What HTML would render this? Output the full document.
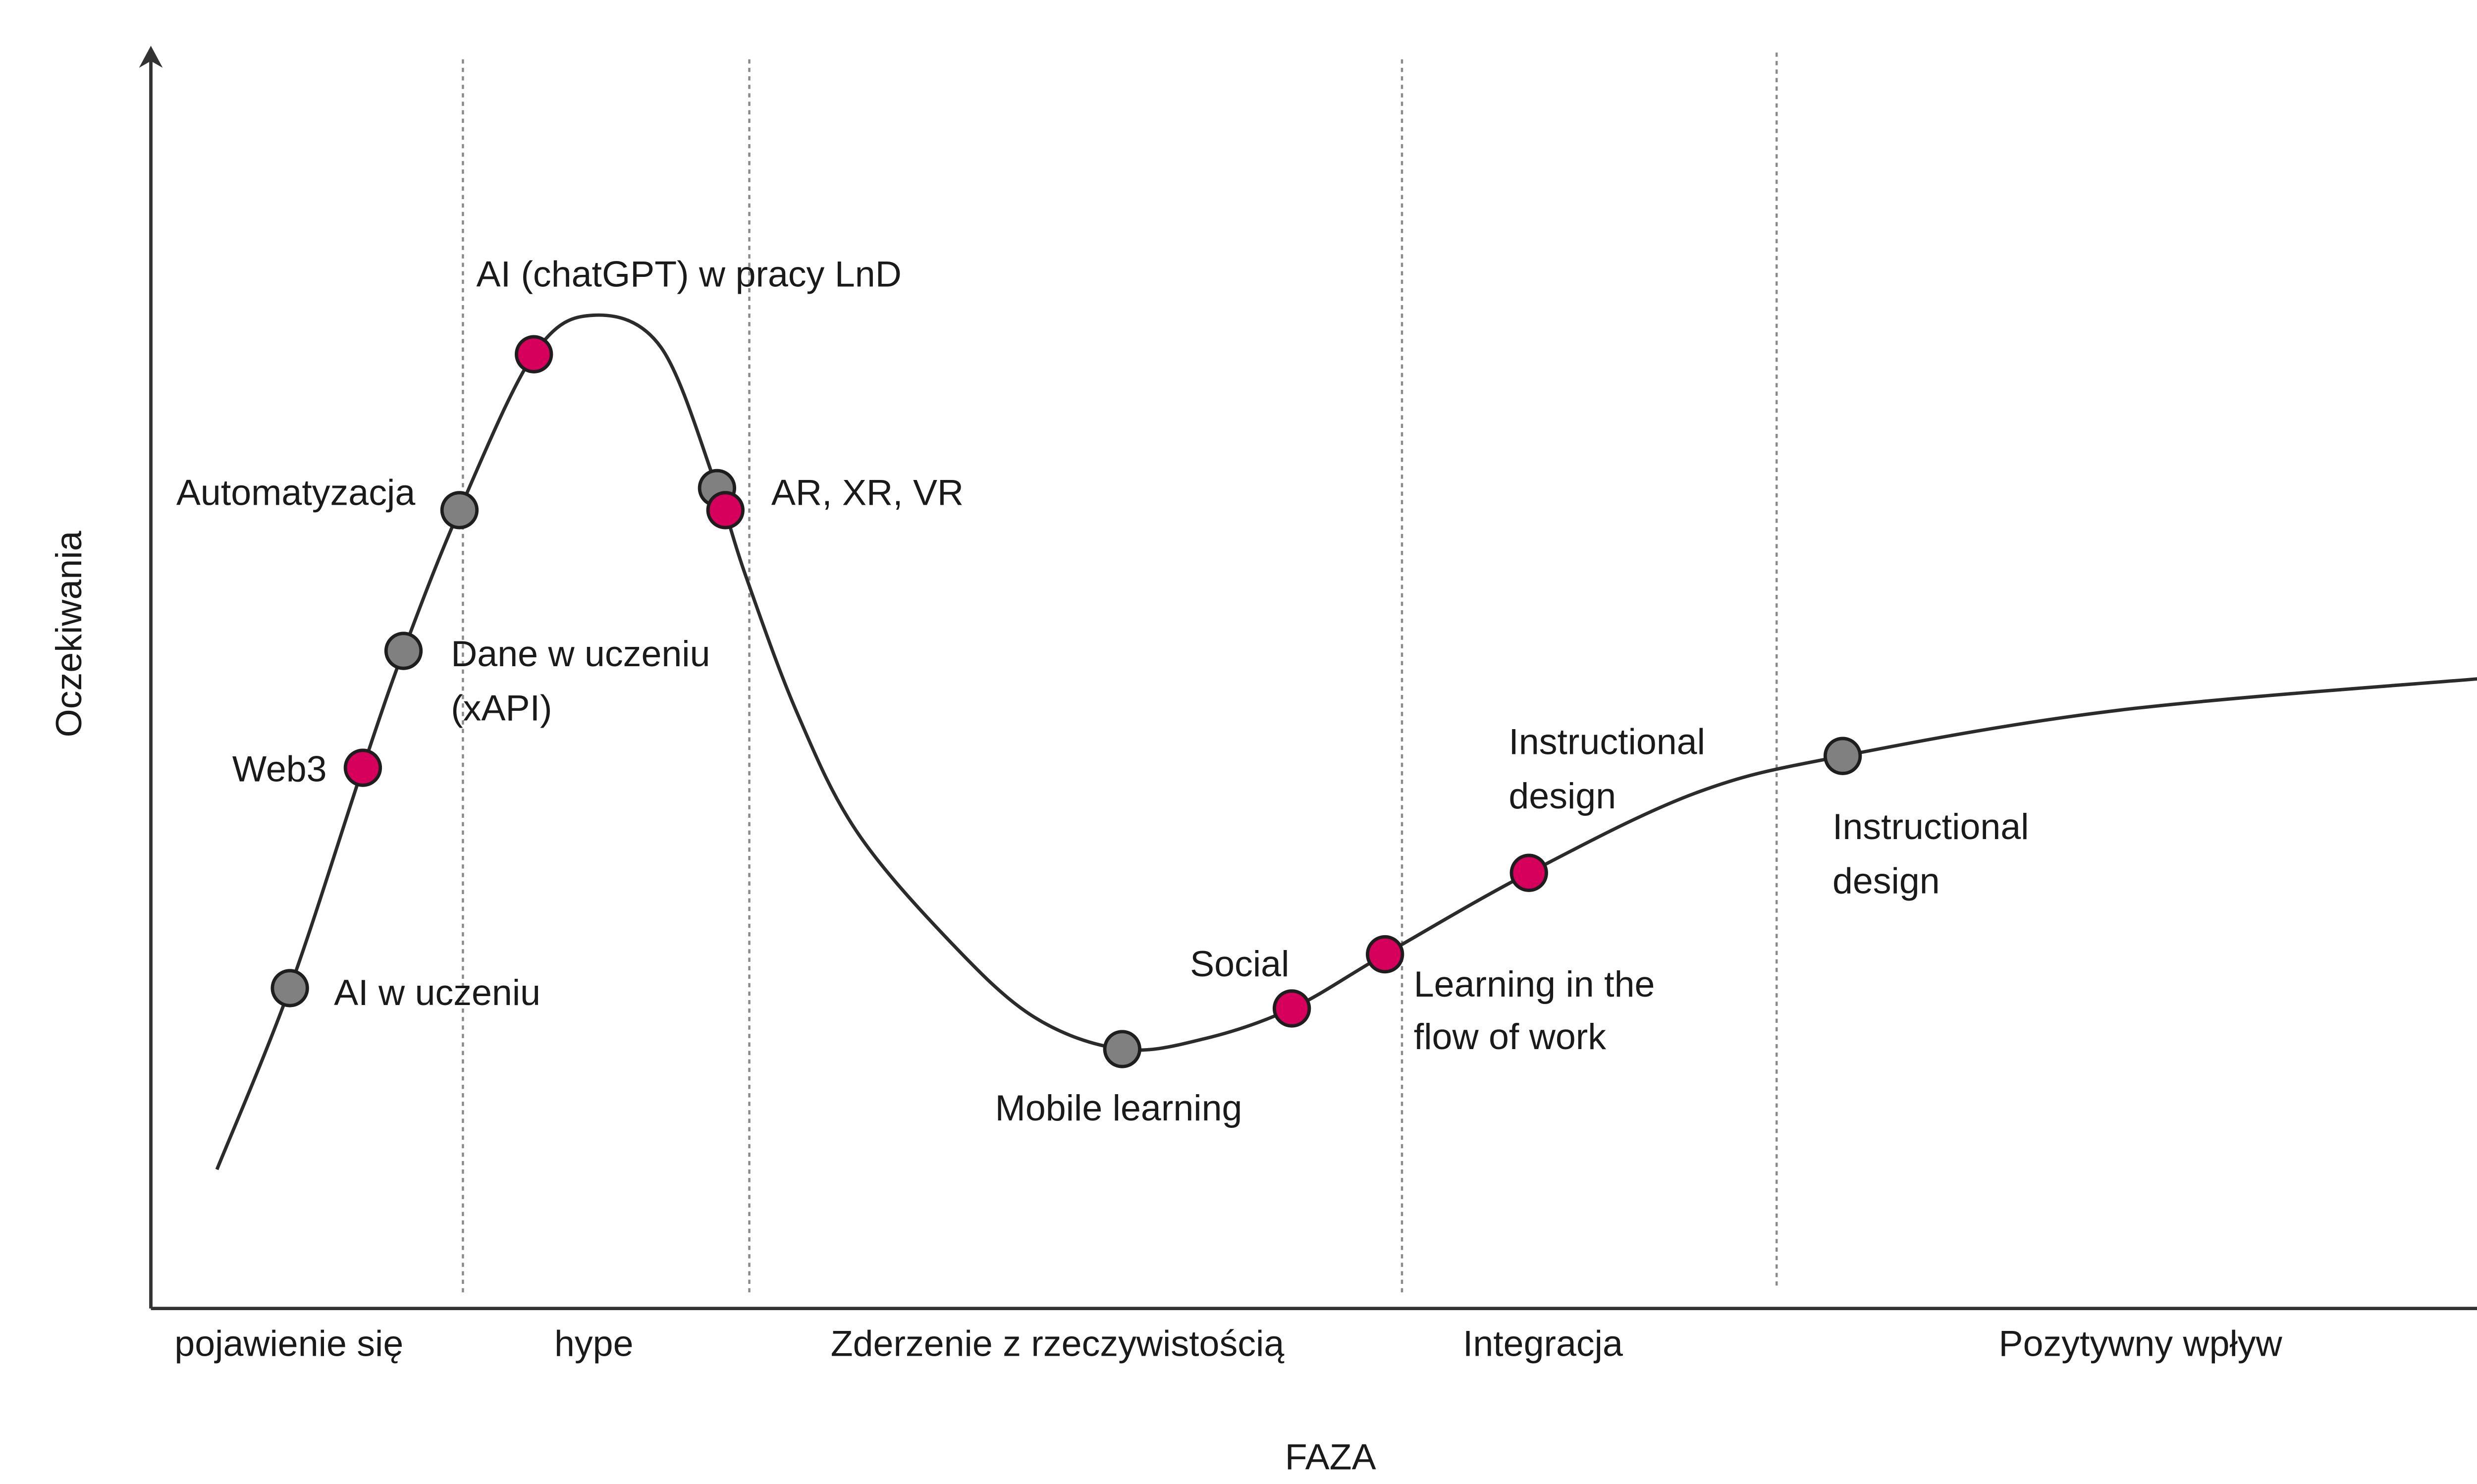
<!DOCTYPE html>
<html><head><meta charset="utf-8"><style>
html,body{margin:0;padding:0;background:#fff;width:5338px;height:2996px;overflow:hidden;}
svg{display:block;width:5338px;height:2996px;}
text{font-family:"Liberation Sans",sans-serif;font-size:21.5px;fill:#1a1a1a;}
</style></head><body>
<svg id="chart" width="5338" height="2996" xmlns="http://www.w3.org/2000/svg">
<rect width="5338" height="2996" fill="#fff"/>
<g transform="scale(3.4218)">
<g id="phase-lines"></g>
<g>
<line x1="89" y1="772" x2="89" y2="36" stroke="#333" stroke-width="2"/>
<path d="M82,40 L89,27 L96,40 L89,36 Z" fill="#333"/>
<line x1="89" y1="772" x2="1536" y2="772" stroke="#333" stroke-width="2"/>
<path d="M1531,765 L1544,772 L1531,779 L1535,772 Z" fill="#333"/>
</g>
<path id="curve" fill="none" stroke="#2b2b2b" stroke-width="2"/>
<g id="dots"></g>
<g id="labels"></g>
<g id="xlabels"></g>
<text x="758" y="867">FAZA</text>
<text transform="translate(48,435) rotate(-90)">Oczekiwania</text>
</g>
</svg>
<script>
// curve shape (x: 0..100 phase progress, y: 0..100 expectations)
const curveX=[2.68,5.64,8.60,10.25,12.52,15.54,17.95,20.70,22.97,24.14,26.20,28.61,32.39,35.83,39.41,42.71,46.29,50.07,55.91,62.65,68.64,79.85,94.84];
const curveY=[11.08,25.54,43.11,52.43,63.65,76.08,79.19,76.62,65.41,58.38,47.57,38.11,29.32,23.24,20.68,21.49,23.92,28.24,34.73,41.08,44.05,47.70,50.27];
// technology points
const pointNames=["AI w uczeniu","Web3","Dane w uczeniu","Automatyzacja","AI (chatGPT)","AR XR VR gray","AR XR VR pink","Mobile learning","Social","Learning in the flow","Instructional design pink","Instructional design gray"];
const pointX=[5.64,8.60,10.25,12.52,15.54,22.97,23.31,39.41,46.29,50.07,55.91,68.64];
const pointY=[25.54,43.11,52.43,63.65,76.08,65.41,63.65,20.68,23.92,28.24,34.73,44.05];
const pointHype=[0,1,0,0,1,0,1,0,1,1,1,0];
// phase boundaries
const phaseBounds=[12.66,24.28,50.76,65.96];
const phaseLabels=["pojawienie się","hype","Zderzenie z rzeczywistością","Integracja","Pozytywny wpływ"];
const phaseLabelX=[0.96,16.37,27.58,53.23,74.97];

const xS=v=>89+v*14.54;
const yS=v=>772-v*7.4;
const NS="http://www.w3.org/2000/svg";

const P=curveX.map((x,i)=>[xS(x),yS(curveY[i])]);
let d="M"+P[0][0]+","+P[0][1];
for(let i=0;i<P.length-1;i++){
 const p0=P[Math.max(0,i-1)],p1=P[i],p2=P[i+1],p3=P[Math.min(P.length-1,i+2)];
 const c1=[p1[0]+(p2[0]-p0[0])/6,p1[1]+(p2[1]-p0[1])/6];
 const c2=[p2[0]-(p3[0]-p1[0])/6,p2[1]-(p3[1]-p1[1])/6];
 d+=` C${c1[0]},${c1[1]} ${c2[0]},${c2[1]} ${p2[0]},${p2[1]}`;
}
document.getElementById('curve').setAttribute('d',d);

const pl=document.getElementById('phase-lines');
phaseBounds.forEach((b,i)=>{
 const l=document.createElementNS(NS,'line');
 
 
 l.setAttribute('x1',xS(b));l.setAttribute('x2',xS(b));
 l.setAttribute('y1',i==3?31:35);l.setAttribute('y2',i==3?760:765);
 l.setAttribute('stroke','#8a8a8a');l.setAttribute('stroke-width','1.3');l.setAttribute('stroke-dasharray','2.5,2.5');
 pl.appendChild(l);
});

const dg=document.getElementById('dots');
pointX.forEach((x,i)=>{
 const c=document.createElementNS(NS,'circle');
 
 
 c.setAttribute('cx',xS(x));c.setAttribute('cy',yS(pointY[i]));c.setAttribute('r','10.3');
 c.setAttribute('fill',pointHype[i]?'#d6005c':'#808080');
 c.setAttribute('stroke','#1e1e1e');c.setAttribute('stroke-width','2');
 dg.appendChild(c);
});

const labels=[["AI (chatGPT) w pracy LnD",281,169],["Automatyzacja",104,298],["AR, XR, VR",455,298],["Dane w uczeniu",266,393],["(xAPI)",266,425],["Web3",137,461],["AI w uczeniu",197,593],["Instructional",890,445],["design",890,477],["Instructional",1081,495],["design",1081,527],["Social",702,576],["Learning in the",834,588],["flow of work",834,619],["Mobile learning",587,661]];
const lg=document.getElementById('labels');
labels.forEach(l=>{
 const t=document.createElementNS(NS,'text');
 
 
 t.setAttribute('x',l[1]);t.setAttribute('y',l[2]);t.textContent=l[0];
 lg.appendChild(t);
});
const xg=document.getElementById('xlabels');
phaseLabels.forEach((s,i)=>{
 const t=document.createElementNS(NS,'text');
 
 
 t.setAttribute('x',xS(phaseLabelX[i]));t.setAttribute('y',800);t.textContent=s;
 xg.appendChild(t);
});
</script>
</body></html>
